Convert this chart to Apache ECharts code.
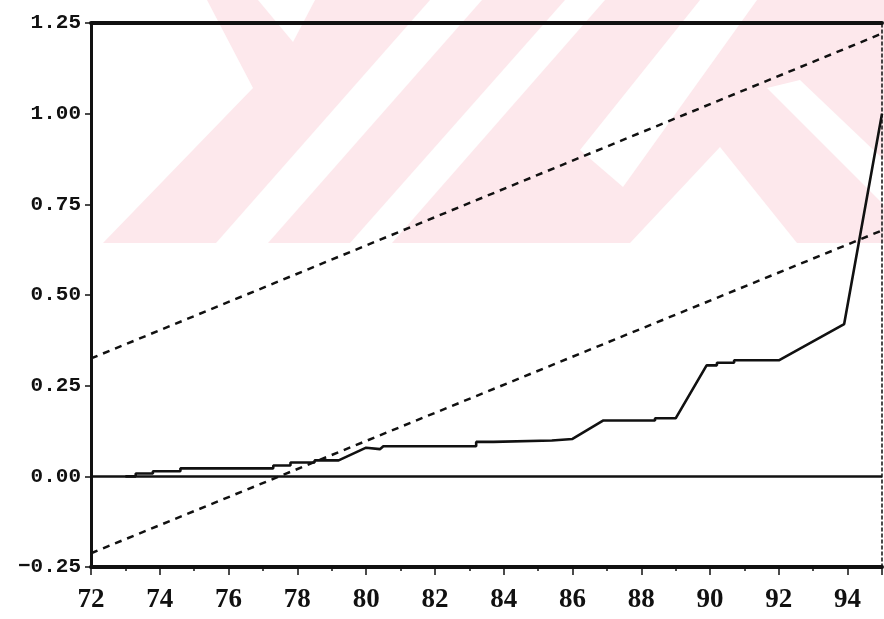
<!DOCTYPE html>
<html>
<head>
<meta charset="utf-8">
<script src="https://cdn.jsdelivr.net/npm/echarts@6/dist/echarts.min.js"></script>
<style>
  html, body { margin: 0; padding: 0; background: #ffffff; }
  #chart { width: 884px; height: 619px; }
</style>
</head>
<body>
<div id="chart"></div>
<script>
// CUSUM of squares test, 1972-1995, with 5% significance bounds

// Cumulative sum of squared recursive residuals (year, value)
const cusumYears = [73.0, 73.3, 73.3, 73.8, 73.8, 74.6, 74.6, 77.3, 77.3, 77.8, 77.8, 78.5, 78.5, 79.2,
                    80.0, 80.4, 80.5, 83.2, 83.2, 83.7, 83.7, 85.4, 85.4, 86.0, 86.9, 88.4, 88.4, 89.0,
                    89.9, 90.2, 90.2, 90.7, 90.7, 92.0, 93.9, 95.0];
const cusumValues = [0.000, 0.000, 0.008, 0.008, 0.014, 0.014, 0.022, 0.022, 0.030, 0.030, 0.038, 0.038, 0.044, 0.044,
                     0.079, 0.075, 0.083, 0.083, 0.095, 0.095, 0.099, 0.099, 0.103, 0.103, 0.154, 0.154, 0.160, 0.160,
                     0.306, 0.306, 0.313, 0.313, 0.320, 0.320, 0.420, 1.000];

// 5% significance bounds (straight lines between end years)
const boundYears = [72, 95];
const upperBound = [0.325, 1.221];
const lowerBound = [-0.212, 0.678];

// Axis ranges and tick steps
const xMin = 72, xMax = 95, xStep = 2;
const yMin = -0.25, yMax = 1.25, yStep = 0.25;

const pairs = (xs, ys) => xs.map((x, i) => [x, ys[i]]);

const ink = '#111111';
const pink = '#fde8ec';
const labelFontY = { fontFamily: 'Liberation Mono', fontWeight: 'bold', fontSize: 21, color: ink };
const labelFontX = { fontFamily: 'Liberation Serif', fontWeight: 'bold', fontSize: 27, color: ink };

// Faint striped emblem printed behind the upper part of the page
const poly = (points, fill) => ({
  type: 'polygon', silent: true, z: -100,
  shape: { points: points }, style: { fill: fill }
});
const backdrop = [
  poly([[207, 0], [884, 0], [884, 243], [103, 243], [253, 88]], pink),
  poly([[258, 0], [315, 0], [293, 42]], '#ffffff'),
  poly([[430, 0], [482, 0], [268, 243], [216, 243]], '#ffffff'),
  poly([[565, 0], [605, 0], [392, 243], [350, 243]], '#ffffff'),
  poly([[700, 0], [757, 0], [623, 187], [580, 150]], '#ffffff'),
  poly([[630, 243], [720, 147], [797, 243]], '#ffffff'),
  poly([[767, 88], [800, 80], [884, 160], [884, 205]], '#ffffff')
];

const chart = echarts.init(document.getElementById('chart'), null, { renderer: 'canvas' });

chart.setOption({
  animation: false,
  backgroundColor: '#ffffff',
  graphic: { elements: backdrop },
  grid: { left: 91, right: 2, top: 23, bottom: 52, containLabel: false },
  xAxis: [
    {
      type: 'value', min: xMin, max: xMax, interval: xStep,
      axisLine: { show: true, onZero: false, lineStyle: { color: ink, width: 4 } },
      axisTick: { show: true, length: 8, lineStyle: { color: ink, width: 1.5 } },
      minorTick: { show: true, splitNumber: 2, length: 4, lineStyle: { color: ink, width: 1.5 } },
      splitLine: { show: false },
      axisLabel: Object.assign({ margin: 20, showMaxLabel: false, formatter: v => String(v) }, labelFontX)
    },
    {
      type: 'value', min: xMin, max: xMax, position: 'top',
      axisLine: { show: true, onZero: false, lineStyle: { color: ink, width: 4 } },
      axisTick: { show: false }, axisLabel: { show: false }, splitLine: { show: false }
    }
  ],
  yAxis: [
    {
      type: 'value', min: yMin, max: yMax, interval: yStep,
      axisLine: { show: true, onZero: false, lineStyle: { color: ink, width: 3 } },
      axisTick: { show: true, length: 6, lineStyle: { color: ink, width: 1.5 } },
      splitLine: { show: false },
      axisLabel: Object.assign({
        margin: 10,
        formatter: v => v.toFixed(2).replace('-', '\u2212')
      }, labelFontY)
    },
    {
      type: 'value', min: yMin, max: yMax, position: 'right',
      axisLine: { show: true, onZero: false, lineStyle: { color: ink, width: 1.5, type: [3, 3] } },
      axisTick: { show: false }, axisLabel: { show: false }, splitLine: { show: false }
    }
  ],
  series: [
    {
      name: 'CUSUM of squares', type: 'line', xAxisIndex: 0, yAxisIndex: 0,
      data: pairs(cusumYears, cusumValues),
      showSymbol: false, symbol: 'none',
      lineStyle: { color: ink, width: 2.6 },
      markLine: {
        silent: true, symbol: 'none', label: { show: false },
        emphasis: { disabled: true },
        lineStyle: { color: ink, width: 2.6, type: 'solid' },
        data: [{ yAxis: 0 }]
      },
      z: 3
    },
    {
      name: 'Upper 5%', type: 'line', data: pairs(boundYears, upperBound),
      showSymbol: false, symbol: 'none',
      lineStyle: { color: ink, width: 2.5, type: [7, 6] }, z: 2
    },
    {
      name: 'Lower 5%', type: 'line', data: pairs(boundYears, lowerBound),
      showSymbol: false, symbol: 'none',
      lineStyle: { color: ink, width: 2.5, type: [7, 6] }, z: 2
    }
  ]
});
</script>
</body>
</html>
